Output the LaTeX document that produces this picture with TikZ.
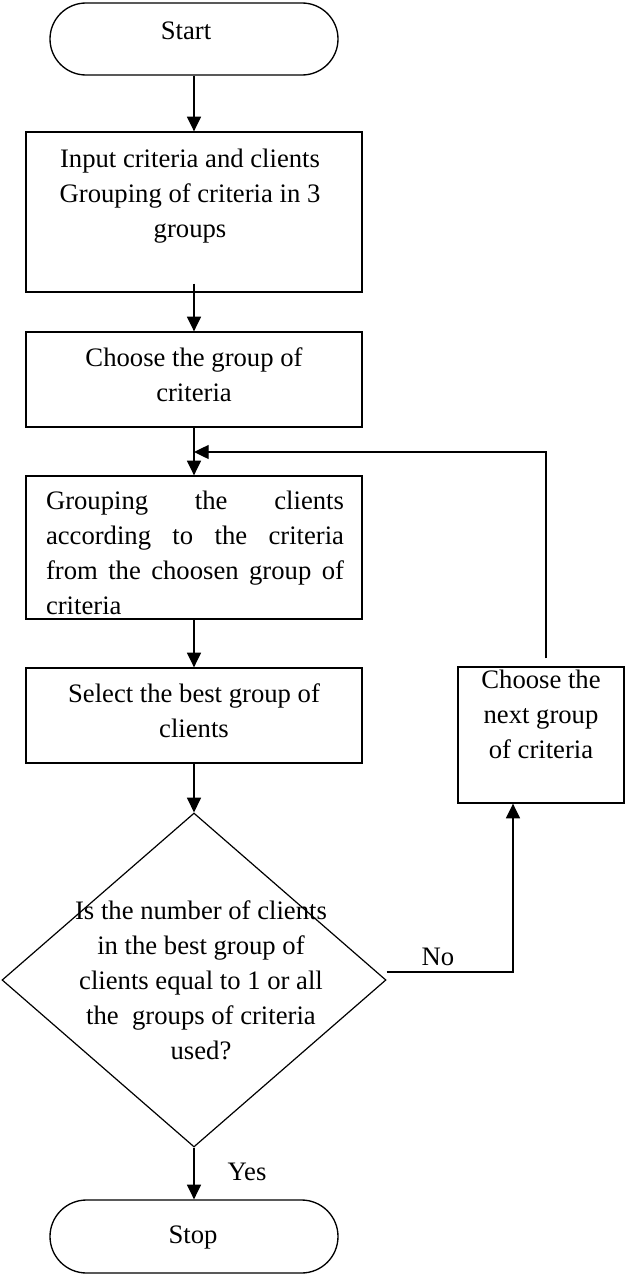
\documentclass[tikz,border=0pt]{standalone}
\usepackage{fontspec}
\setmainfont{Liberation Serif}
\usetikzlibrary{shapes.geometric,shapes.misc,arrows.meta,calc}
\begin{document}
\begin{tikzpicture}[x=0.75pt,y=-0.75pt,
  every node/.style={font=\fontsize{20}{26.25}\selectfont},
  flow/.style={line width=1pt,-{Triangle[length=11pt,width=10.5pt]}},
  term/.style={draw,line width=1pt,rounded rectangle,inner sep=0pt,minimum width=216pt},
  procbox/.style={draw,line width=1pt,rectangle,inner sep=0pt},
  decision/.style={draw,line width=0.9pt,diamond,inner sep=0pt,minimum width=288pt,minimum height=250.5pt},
  txt/.style={inner sep=0pt,align=center},
  lbl/.style={inner sep=0pt,anchor=base}
]
\useasboundingbox (0,0) rectangle (625,1274);

% shapes
\node[term,minimum height=54pt] (start) at (194,39) {};
\node[procbox,minimum width=252pt,minimum height=120pt] (b1) at (194,212) {};
\node[procbox,minimum width=252pt,minimum height=71.25pt] (b2) at (194,379.5) {};
\node[procbox,minimum width=252pt,minimum height=107.25pt] (b3) at (194,547.5) {};
\node[procbox,minimum width=252pt,minimum height=71.25pt] (b4) at (194,715.5) {};
\node[procbox,minimum width=124.5pt,minimum height=102pt] (b5) at (541,735) {};
\node[decision] (dia) at (194,980) {};
\node[term,minimum height=54.75pt] (stop) at (194,1236.5) {};

% texts
\node[lbl] (tstart) at (186,39) {Start};
\node[txt] (t1) at (190,196) {Input criteria and clients\\Grouping of criteria in 3\\groups};
\node[txt] (t2) at (194,375) {Choose the group of\\criteria};
\node[inner sep=0pt,align=left] (t3) at (195,552.5) {\makebox[223.5pt][s]{Grouping the clients}\\\makebox[223.5pt][s]{according to the criteria}\\\makebox[223.5pt][s]{from the choosen group of}\\criteria};
\node[txt] (t4) at (194,710.5) {Select the best group of\\clients};
\node[txt] (t5) at (541,714) {Choose the\\next group\\of criteria};
\node[txt] (td) at (201,980.5) {Is the number of clients\\in the best group of\\clients equal to 1 or all\\the\ \ groups of criteria\\used?};
\node[lbl] (tstop) at (193,1243) {Stop};
\node[lbl] (yes) at (247,1180) {Yes};
\node[lbl] (no) at (438,965) {No};

% connectors
\coordinate (join) at (194,452);
\draw[flow] (start.south) -- (b1.north);
\draw[flow] ($(b1.south)+(0,-9)$) -- (b2.north);
\draw[flow] (b2.south) -- (b3.north);
\draw[flow] (b3.south) -- (b4.north);
\draw[flow] (b4.south) -- (dia.north);
\draw[flow] (dia.south) -- (stop.north);
\draw[flow] ($(dia.east)+(0,-8)$) -| ($(b5.south)+(-28,0)$);
\draw[flow] ($(b5.north)+(5,-8)$) |- (join);
\end{tikzpicture}
\end{document}
